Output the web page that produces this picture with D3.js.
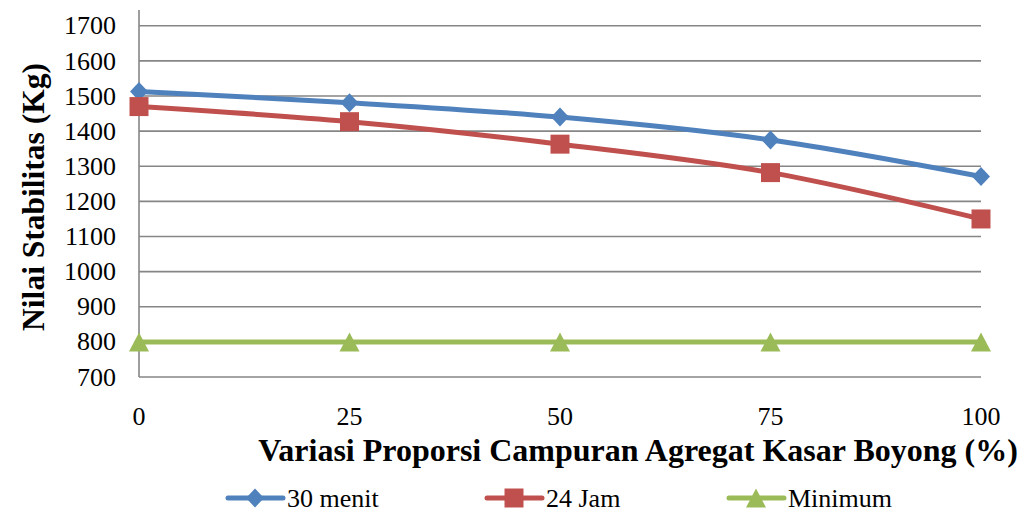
<!DOCTYPE html>
<html>
<head>
<meta charset="utf-8">
<script src="https://cdn.jsdelivr.net/npm/d3@7"></script>
<style>
  html, body { margin: 0; padding: 0; background: #fff; }
  svg { display: block; }
  svg text { font-family: "Times New Roman", Times, "Liberation Serif", Tinos, "Nimbus Roman", "Noto Serif", "DejaVu Serif", serif; fill: #000; }
</style>
</head>
<body>
<svg id="chart" width="1021" height="512"></svg>
<script>
// Proportion of Boyong coarse aggregate (%)
const proportions = [0, 25, 50, 75, 100];
// Marshall stability (Kg)
const stability30min = [1513, 1481, 1440, 1375, 1271];
const stability24h   = [1470, 1427, 1363, 1282, 1150];
const stabilityMin   = [800, 800, 800, 800, 800];
const yTicks = [700, 800, 900, 1000, 1100, 1200, 1300, 1400, 1500, 1600, 1700];
const seriesNames = ["30 menit", "24 Jam", "Minimum"];
const seriesColors = ["#4F81BD", "#C0504D", "#9BBB59"];

// marker shapes: diamond, square, triangle (slightly wider than tall)
const diamond = { draw(ctx, s) { const w = 9, h = 9.5;
  ctx.moveTo(0, -h); ctx.lineTo(w, 0); ctx.lineTo(0, h); ctx.lineTo(-w, 0); ctx.closePath(); } };
const square = { draw(ctx, s) { const r = 9.5;
  ctx.rect(-r, -r, 2 * r, 2 * r); } };
const triangle = { draw(ctx, s) { const w = 10, h = 9.5;
  ctx.moveTo(0, -h); ctx.lineTo(w, h); ctx.lineTo(-w, h); ctx.closePath(); } };
const seriesShapes = [diamond, square, triangle];

const series = [stability30min, stability24h, stabilityMin].map((vals, i) => ({
  name: seriesNames[i], color: seriesColors[i], shape: seriesShapes[i],
  points: proportions.map((p, j) => ({ x: p, y: vals[j] }))
}));

const svg = d3.select("#chart");
const plotL = 139, plotR = 981, plotT = 10, plotB = 377;

const x = d3.scaleLinear().domain([0, 100]).range([plotL, plotR]);
const y = d3.scaleLinear().domain([700, 1745]).range([plotB, plotT]);

const gridColor = "#868686";

// horizontal gridlines
svg.append("g").selectAll("line")
  .data(yTicks.filter(t => t > 700))
  .join("line")
  .attr("x1", plotL).attr("x2", plotR)
  .attr("y1", d => y(d)).attr("y2", d => y(d))
  .attr("stroke", gridColor).attr("stroke-width", 1.6);

// axis lines
svg.append("line").attr("x1", plotL).attr("x2", plotL).attr("y1", plotT).attr("y2", plotB)
  .attr("stroke", gridColor).attr("stroke-width", 1.6);
svg.append("line").attr("x1", plotL).attr("x2", plotR).attr("y1", plotB).attr("y2", plotB)
  .attr("stroke", gridColor).attr("stroke-width", 1.6);

// y tick labels
svg.append("g").selectAll("text")
  .data(yTicks).join("text")
  .attr("x", 116).attr("y", d => y(d))
  .attr("dy", "0.33em")
  .attr("text-anchor", "end")
  .attr("font-size", 26)
  .text(d => d);

// x tick labels
svg.append("g").selectAll("text")
  .data(proportions).join("text")
  .attr("x", d => x(d)).attr("y", 425)
  .attr("text-anchor", "middle")
  .attr("font-size", 26)
  .text(d => d);

// axis titles
svg.append("text")
  .attr("x", 638).attr("y", 461)
  .attr("text-anchor", "middle")
  .attr("font-size", 32).attr("font-weight", "bold")
  .text("Variasi Proporsi Campuran Agregat Kasar Boyong (%)");

svg.append("text")
  .attr("transform", "translate(44,197) rotate(-90)")
  .attr("text-anchor", "middle")
  .attr("font-size", 31.5).attr("font-weight", "bold")
  .text("Nilai Stabilitas (Kg)");

// smoothed series lines with markers
const line = d3.line().x(d => x(d.x)).y(d => y(d.y)).curve(d3.curveCatmullRom.alpha(0.5));

const g = svg.append("g");
series.forEach(s => {
  g.append("path")
    .attr("d", line(s.points))
    .attr("fill", "none")
    .attr("stroke", s.color)
    .attr("stroke-width", 5)
    .attr("stroke-linejoin", "round");
});
series.forEach(s => {
  g.append("g").selectAll("path")
    .data(s.points).join("path")
    .attr("transform", d => `translate(${x(d.x)},${y(d.y)})`)
    .attr("d", d3.symbol(s.shape))
    .attr("fill", s.color);
});

// legend
const legendX = [228, 487, 729];
const legendY = 498;
const lg = svg.append("g");
series.forEach((s, i) => {
  const x0 = legendX[i];
  lg.append("line").attr("x1", x0).attr("x2", x0 + 55)
    .attr("y1", legendY).attr("y2", legendY)
    .attr("stroke", s.color).attr("stroke-width", 5).attr("stroke-linecap", "round");
  lg.append("path")
    .attr("transform", `translate(${x0 + 27},${legendY})`)
    .attr("d", d3.symbol(s.shape))
    .attr("fill", s.color);
  lg.append("text")
    .attr("x", x0 + 59).attr("y", legendY).attr("dy", "0.33em")
    .attr("font-size", 26)
    .text(s.name);
});
</script>
</body>
</html>
